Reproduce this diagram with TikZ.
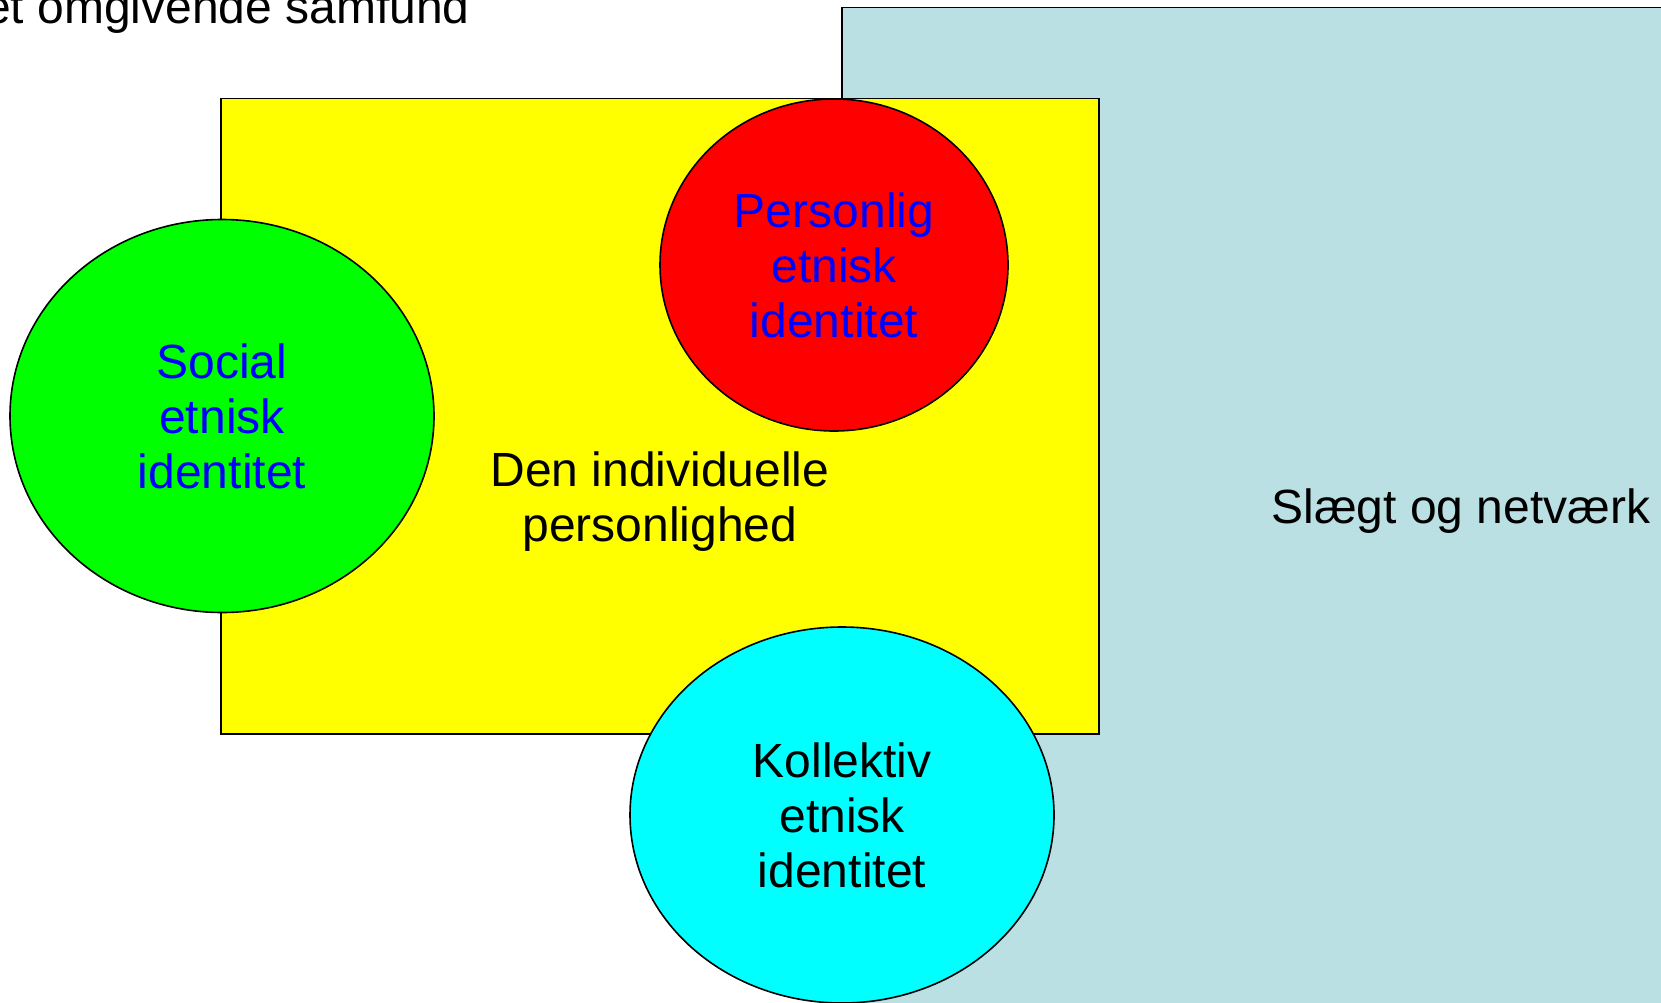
\documentclass[tikz,border=0pt]{standalone}
\usepackage{fontspec}
\setmainfont{Liberation Sans}
\usetikzlibrary{shapes.geometric}
\definecolor{tealbg}{HTML}{BAE0E3}
\definecolor{yel}{HTML}{FFFF00}
\definecolor{redfill}{HTML}{FF0000}
\definecolor{greenfill}{HTML}{00FF00}
\definecolor{cyanfill}{HTML}{00FFFF}
\definecolor{bluetext}{HTML}{0000FF}
\tikzset{
  bigtext/.style={font=\fontsize{48}{55}\selectfont, inner sep=0pt, align=center},
  circ/.style={ellipse, draw=black, line width=1.6pt, inner sep=0pt, bigtext},
  boxarea/.style={draw=black, line width=1.6pt}
}
\begin{document}
\begin{tikzpicture}[x=1pt,y=-1pt]
\useasboundingbox (0,0) rectangle (1661,1003);
% outer teal area
\path[boxarea, fill=tealbg] (842,7.5) rectangle (1720,1060);
% yellow rectangle
\path[boxarea, fill=yel] (221,98.5) rectangle (1099,734);
% labels
\node[bigtext, anchor=base east] (samfund) at (470,24) {Det omgivende samfund};
\node[bigtext, anchor=base] (slaegt) at (1461,523) {Slægt og netværk};
\node[bigtext] (personlighed) at (660,502) {Den individuelle\\personlighed};
% ellipses
\node[circ, fill=redfill, text=bluetext, minimum width=348pt, minimum height=332pt] (personlig) at (834,265) {Personlig\\etnisk\\identitet};
\node[circ, fill=greenfill, text=bluetext, minimum width=424pt, minimum height=393pt] (social) at (222,416) {Social\\etnisk\\identitet};
\node[circ, fill=cyanfill, text=black, minimum width=424pt, minimum height=376pt] (kollektiv) at (842,815) {Kollektiv\\etnisk\\identitet};
\end{tikzpicture}
\end{document}
